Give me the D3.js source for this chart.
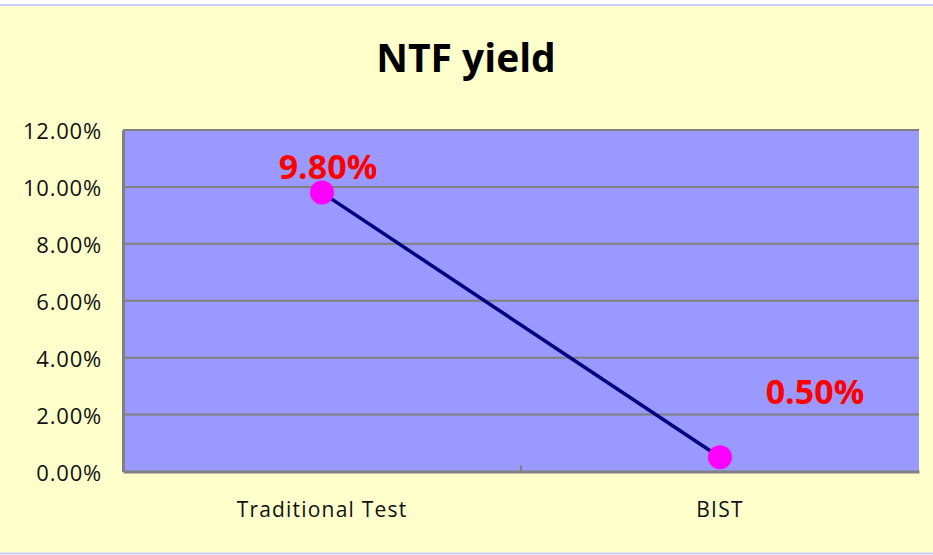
<!DOCTYPE html>
<html><head><meta charset="utf-8">
<script src="https://cdn.jsdelivr.net/npm/d3@7"></script>
<style>html,body{margin:0;padding:0;background:#fff;}svg{display:block;}</style>
</head><body>
<script>
const title = "NTF yield";
const categories = ["Traditional Test", "BIST"];
const values = [0.098, 0.005];
const valueLabels = ["9.80%", "0.50%"];
const yTicks = [0, 0.02, 0.04, 0.06, 0.08, 0.10, 0.12];
const labelOffsets = [[6, -14], [95, -53]]; // label placement relative to points (dx, dy)

const W = 933, H = 555;
const m = {left: 123, right: 14, top: 130, bottom: 84};
const svg = d3.select("body").append("svg").attr("width", W).attr("height", H);

svg.append("rect").attr("x", 0).attr("y", 0).attr("width", W).attr("height", H).attr("fill", "#fff");
svg.append("rect").attr("x", 0).attr("y", 5).attr("width", W).attr("height", 548).attr("fill", "#FFFFCC");
svg.append("line").attr("x1", 0).attr("x2", W).attr("y1", 5).attr("y2", 5).attr("stroke", "#CCCCFF").attr("stroke-width", 2);
svg.append("line").attr("x1", 0).attr("x2", W).attr("y1", 553.5).attr("y2", 553.5).attr("stroke", "#CCCCFF").attr("stroke-width", 2);

svg.append("text").attr("x", 466).attr("y", 72).attr("text-anchor", "middle")
  .attr("font-family", "Open Sans").attr("font-weight", "bold").attr("font-size", 39)
  .attr("fill", "#000").text(title);

const x = d3.scaleBand().domain(categories).range([m.left, W - m.right]);
const y = d3.scaleLinear().domain([0, 0.12]).range([H - m.bottom + 0.5, m.top]);

svg.append("rect").attr("x", m.left).attr("y", m.top).attr("width", x.range()[1] - m.left)
  .attr("height", y(0) - m.top).attr("fill", "#9999FF");

// gridlines
svg.append("g").selectAll("line").data(yTicks.filter(d => d > 0)).join("line")
  .attr("x1", m.left).attr("x2", x.range()[1]).attr("y1", d => y(d)).attr("y2", d => y(d))
  .attr("stroke", "#808080").attr("stroke-width", 2);

// y axis
const yAxis = svg.append("g").attr("transform", `translate(${m.left},0)`)
  .call(d3.axisLeft(y).tickValues(yTicks).tickFormat(d3.format(".2%")).tickSize(0).tickPadding(21));
yAxis.select(".domain").attr("stroke", "#808080").attr("stroke-width", 3);
yAxis.selectAll("text").attr("font-family", "Open Sans").attr("font-size", 22).attr("letter-spacing", 0.8)
  .attr("fill", "#111").attr("dy", "0.4em");

// x axis
const xAxis = svg.append("g").attr("transform", `translate(0,${y(0)})`)
  .call(d3.axisBottom(x).tickSize(0).tickPadding(40));
xAxis.select(".domain").attr("stroke", "#808080").attr("stroke-width", 3);
xAxis.selectAll("text").attr("font-family", "Open Sans").attr("font-size", 21).attr("letter-spacing", 1.2)
  .attr("fill", "#111").attr("dy", "0.25em");
// inner tick marks between categories
svg.append("g").selectAll("line").data(categories.slice(1)).join("line")
  .attr("x1", d => x(d)).attr("x2", d => x(d)).attr("y1", y(0)).attr("y2", y(0) - 6)
  .attr("stroke", "#808080").attr("stroke-width", 2);

const pts = categories.map((c, i) => ({c, v: values[i], l: valueLabels[i], o: labelOffsets[i]}));
const cx = d => x(d.c) + x.bandwidth() / 2;

svg.append("path").datum(pts)
  .attr("d", d3.line().x(cx).y(d => y(d.v)))
  .attr("fill", "none").attr("stroke", "#000080").attr("stroke-width", 3.5);

svg.append("g").selectAll("circle").data(pts).join("circle")
  .attr("cx", cx).attr("cy", d => y(d.v)).attr("r", 12).attr("fill", "#FF00FF");

svg.append("g").selectAll("text").data(pts).join("text")
  .attr("x", d => cx(d) + d.o[0]).attr("y", d => y(d.v) + d.o[1])
  .attr("text-anchor", "middle").attr("font-family", "Open Sans").attr("font-weight", "bold")
  .attr("font-size", 34).attr("fill", "#FF0000").text(d => d.l);
</script>
</body></html>
